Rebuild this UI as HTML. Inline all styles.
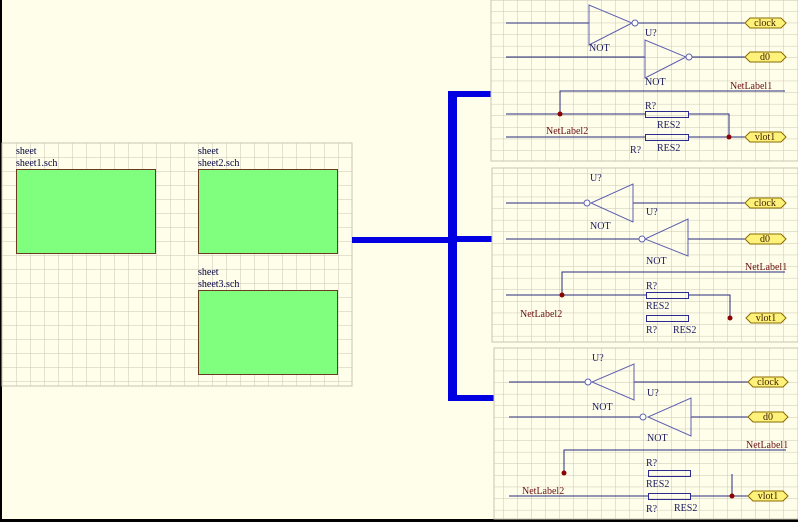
<!DOCTYPE html>
<html><head><style>
body{margin:0;background:#fffeea;}
svg{display:block}
text{font-family:"Liberation Serif",serif;font-size:10px;}
</style></head><body>
<svg width="798" height="522" xmlns="http://www.w3.org/2000/svg">
<defs>
<pattern id="g" width="14" height="11.6" patternUnits="userSpaceOnUse">
<path d="M14 0V11.6M0 11.6H14" stroke="#c9c6b2" stroke-width="1" fill="none"/>
</pattern>
<pattern id="g2" width="14" height="14" patternUnits="userSpaceOnUse" x="2" y="143">
<path d="M0 0V14M0 0H14" stroke="#c9c6b2" stroke-width="1" fill="none"/>
</pattern>
</defs>
<rect width="798" height="522" fill="#fffeea"/>
<rect x="0" y="0" width="2" height="522" fill="#000"/>
<rect x="0" y="519" width="798" height="3" fill="#000"/>
<!-- left sheet grid -->
<rect x="2" y="143" width="350" height="243" fill="url(#g2)" stroke="#c9c6b2"/>
<g fill="#80fe7d" stroke="#6b3a20" stroke-width="1">
<rect x="16.5" y="169.5" width="139" height="84"/>
<rect x="198.5" y="169.5" width="139" height="84"/>
<rect x="198.5" y="290.5" width="139" height="84"/>
</g>
<g fill="#000040">
<text x="16" y="154">sheet</text><text x="16" y="166">sheet1.sch</text>
<text x="198" y="154">sheet</text><text x="198" y="166">sheet2.sch</text>
<text x="198" y="275">sheet</text><text x="198" y="287">sheet3.sch</text>
</g>
<!-- bus -->
<g fill="#0000e0">
<rect x="352" y="237" width="100" height="6"/>
<rect x="448" y="91" width="9" height="310"/>
<rect x="448" y="91" width="43" height="6"/>
<rect x="448" y="236" width="44" height="6"/>
<rect x="448" y="395" width="46" height="6"/>
</g>
<!-- panels grid -->
<rect x="491" y="0" width="307" height="161" fill="url(#g)" stroke="#c9c6b2"/>
<rect x="492" y="168" width="306" height="174" fill="url(#g)" stroke="#c9c6b2"/>
<rect x="494" y="348" width="304" height="171" fill="url(#g)" stroke="#c9c6b2"/>

<!-- label shape helper via polygons -->
<g stroke-width="1">
<!-- PANEL 1 -->
<g stroke="#2a2a80" fill="none">
<path d="M506 23H589M638 23H745M506 57H645M692 57H745"/>
<path d="M560 114V91H785M506 114H645M688 114H729V137M506 137H645M688 137H745"/>
</g>
<g stroke="#6060b0" fill="none">
<path d="M589 5V45L632 23Z"/><circle cx="635" cy="23" r="3" fill="#fff"/>
<path d="M645 40V78L686 57Z"/><circle cx="689" cy="57" r="3" fill="#fff"/>
</g>
<g stroke="#2a2a90" fill="none"><rect x="645.5" y="111.5" width="43" height="6"/><rect x="645.5" y="134.5" width="43" height="6"/></g>
<g fill="#8b0000"><circle cx="560" cy="114" r="2.5"/><circle cx="729" cy="137" r="2.5"/></g>

<!-- PANEL 2 -->
<g stroke="#2a2a80" fill="none">
<path d="M506 203H584M633 203H745M506 239H639M688 239H745"/>
<path d="M562 295V272H785M506 295H646M688 295H730V318"/>
</g>
<g stroke="#6060b0" fill="none">
<path d="M633 184V222L591 203Z"/><circle cx="587" cy="203" r="3" fill="#fff"/>
<path d="M688 219V256L645 239Z"/><circle cx="642" cy="239" r="3" fill="#fff"/>
</g>
<g stroke="#2a2a90" fill="none"><rect x="646.5" y="292.5" width="42" height="6"/><rect x="646.5" y="315.5" width="42" height="6"/></g>
<g fill="#8b0000"><circle cx="562" cy="295" r="2.5"/><circle cx="730" cy="318" r="2.5"/></g>

<!-- PANEL 3 -->
<g stroke="#2a2a80" fill="none">
<path d="M509 382H585M634 382H748M509 417H640M691 417H748"/>
<path d="M564 472V450H786M509 496H648M690 496H748M732 474V496"/>
</g>
<g stroke="#6060b0" fill="none">
<path d="M634 364V400L592 382Z"/><circle cx="588" cy="382" r="3" fill="#fff"/>
<path d="M691 398V436L648 417Z"/><circle cx="643" cy="417" r="3" fill="#fff"/>
</g>
<g stroke="#2a2a90" fill="none"><rect x="648.5" y="470.5" width="42" height="6"/><rect x="648.5" y="493.5" width="42" height="6"/></g>
<g fill="#8b0000"><circle cx="564" cy="473" r="2.5"/><circle cx="732" cy="496" r="2.5"/></g>

<!-- port labels -->
<g fill="#fff27a" stroke="#8a6a00">
<path d="M745 23L750 18H781L786 23L781 28H750Z"/>
<path d="M745 57L750 52H781L786 57L781 62H750Z"/>
<path d="M745 137L750 132H781L786 137L781 142H750Z"/>
<path d="M745 203L750 198H781L786 203L781 208H750Z"/>
<path d="M745 239L750 234H781L786 239L781 244H750Z"/>
<path d="M746 318L751 313H781L786 318L781 323H751Z"/>
<path d="M748 382L753 377H783L788 382L783 387H753Z"/>
<path d="M748 417L753 412H783L788 417L783 422H753Z"/>
<path d="M748 496L753 491H783L788 496L783 501H753Z"/>
</g>
</g>
<g fill="#3a1a00" text-anchor="middle">
<text x="765" y="26">clock</text><text x="765" y="60">d0</text><text x="765" y="140">vlot1</text>
<text x="765" y="206">clock</text><text x="765" y="242">d0</text><text x="766" y="321">vlot1</text>
<text x="768" y="385">clock</text><text x="768" y="420">d0</text><text x="768" y="499">vlot1</text>
</g>
<g fill="#1a1a60">
<text x="589" y="51">NOT</text><text x="645" y="36">U?</text><text x="645" y="85">NOT</text>
<text x="645" y="109">R?</text><text x="657" y="128">RES2</text><text x="630" y="153">R?</text><text x="657" y="151">RES2</text>
<text x="590" y="181">U?</text><text x="590" y="229">NOT</text><text x="646" y="215">U?</text><text x="646" y="264">NOT</text>
<text x="646" y="289">R?</text><text x="646" y="309">RES2</text><text x="646" y="333">R?</text><text x="673" y="333">RES2</text>
<text x="592" y="361">U?</text><text x="592" y="410">NOT</text><text x="647" y="396">U?</text><text x="647" y="441">NOT</text>
<text x="646" y="466">R?</text><text x="646" y="487">RES2</text><text x="646" y="512">R?</text><text x="674" y="511">RES2</text>
</g>
<g fill="#6a1010">
<text x="730" y="89">NetLabel1</text><text x="546" y="134">NetLabel2</text>
<text x="745" y="270">NetLabel1</text><text x="520" y="317">NetLabel2</text>
<text x="746" y="448">NetLabel1</text><text x="522" y="494">NetLabel2</text>
</g>
</svg>
</body></html>
